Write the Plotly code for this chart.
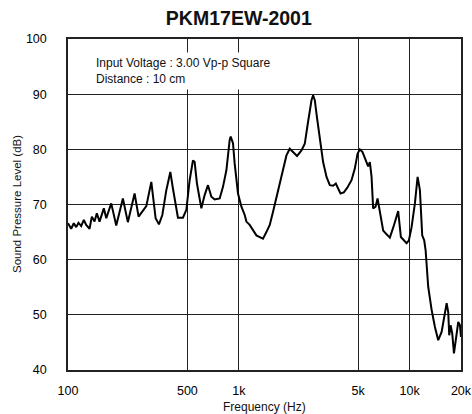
import plotly.graph_objects as go

# Frequency response data (Hz, dB SPL)
freq_hz = [100, 104.4, 108.1, 111.7, 115.2, 119.5, 123.8, 127.8, 133.7, 137.9,
           143.0, 147.5, 153.0, 162.1, 167.5, 179.1, 191.6, 209.6, 224.1, 245.4,
           259.0, 274.5, 287.4, 307.5, 325.9, 340.7, 356.7, 376.4, 397.3, 411.5,
           440.3, 470.9, 493.0, 515.5, 539.0, 551.5, 568.9, 603.7, 631.1, 659.9,
           691.0, 722.4, 772.7, 808.0, 845.9, 884.5, 896.5, 924.8, 946.1, 989.3,
           1036, 1083, 1108, 1158, 1211, 1268, 1326, 1386, 1451, 1518,
           1587, 1662, 1737, 1816, 1901, 1988, 2078, 2193, 2328, 2434,
           2545, 2665, 2723, 2786, 2874, 3009, 3117, 3263, 3411, 3566,
           3699, 3816, 3941, 4121, 4309, 4571, 4779, 4957, 5113, 5303,
           5545, 5720, 5853, 5989, 6119, 6320, 6493, 6698, 7004, 7333,
           7664, 8016, 8391, 8575, 8892, 9173, 9603, 9906, 10272, 10742,
           11141, 11492, 11856, 12180, 12413, 12853, 13459, 14072, 14712, 15402,
           16105, 16480, 16837, 17067, 17393, 17774, 18187, 18684, 19274, 19718,
           20000]
spl_db = [66.6, 65.6, 66.6, 65.9, 66.7, 66.1, 67.2, 66.3, 65.6, 67.8,
          66.9, 68.4, 66.9, 69.3, 67.5, 70.2, 66.2, 71.1, 66.8, 72.0,
          67.8, 69.0, 69.7, 74.1, 67.5, 66.4, 68.1, 72.6, 75.9, 72.9,
          67.6, 67.6, 69.0, 74.4, 78.0, 77.7, 73.8, 69.3, 71.7, 73.5,
          71.4, 70.9, 71.1, 73.2, 76.2, 81.7, 82.3, 81.1, 77.4, 72.0,
          69.6, 68.1, 66.9, 66.3, 65.3, 64.4, 64.1, 63.8, 65.0, 66.3,
          68.7, 71.4, 73.8, 76.5, 78.9, 80.1, 79.5, 78.8, 79.8, 81.0,
          85.0, 88.9, 89.8, 88.9, 85.6, 81.0, 77.7, 75.0, 73.5, 73.4,
          73.8, 72.9, 72.0, 72.2, 73.0, 74.4, 76.5, 79.2, 80.0, 79.5,
          78.0, 76.9, 77.7, 75.0, 69.3, 69.6, 71.1, 68.4, 65.3, 64.6,
          64.0, 65.8, 68.1, 68.8, 64.1, 63.7, 63.0, 63.5, 65.9, 70.2,
          75.0, 72.6, 64.4, 63.5, 61.7, 55.1, 50.9, 47.8, 45.4, 46.9,
          50.5, 52.1, 50.5, 46.3, 48.1, 46.6, 43.0, 46.0, 48.7, 48.1,
          46.0]

x_tick_vals = [100, 500, 1000, 5000, 10000, 20000]
x_tick_text = ["100", "500", "1k", "5k", "10k", "20k"]
y_tick_vals = [40, 50, 60, 70, 80, 90, 100]

title_text = "PKM17EW-2001"
x_title = "Frequency (Hz)"
y_title = "Sound Pressure Level (dB)"
note_text = "Input Voltage : 3.00 Vp-p Square<br>Distance : 10 cm"

FONT = "Liberation Sans, Arial, sans-serif"

fig = go.Figure()
fig.add_trace(go.Scatter(x=freq_hz, y=spl_db, mode="lines",
                         line=dict(color="black", width=2), showlegend=False,
                         hoverinfo="x+y"))

fig.update_layout(
    width=472, height=414,
    margin=dict(l=68, r=11, t=39, b=44, autoexpand=False),
    paper_bgcolor="white", plot_bgcolor="white",
    font=dict(family=FONT, size=12, color="black"),
    title=dict(text="<b>" + title_text + "</b>", x=0.506, xanchor="center",
               y=1 - 18 / 414, yanchor="middle", yref="container",
               font=dict(family=FONT, size=19.5, color="#111")),
    xaxis=dict(type="log", range=[2, 4.30103], tickvals=x_tick_vals,
               ticktext=x_tick_text, showgrid=True, gridcolor="#222",
               gridwidth=1.2, showline=True, linecolor="#222", linewidth=1.5,
               mirror=True, ticks="", ticklabelstandoff=8, zeroline=False,
               automargin=False, tickfont=dict(size=12.5)),
    yaxis=dict(range=[40, 100], tickvals=y_tick_vals, showgrid=True,
               gridcolor="#222", gridwidth=1.2, showline=True,
               linecolor="#222", linewidth=1.5, mirror=True, ticks="",
               ticklabelstandoff=17, zeroline=False, automargin=False,
               tickfont=dict(size=12.5)),
    annotations=[
        dict(text=note_text, xref="paper", yref="paper",
             x=0.062, y=0.902, xanchor="left", yanchor="middle",
             align="left", showarrow=False, bgcolor="white",
             borderpad=3, font=dict(size=12, color="#111")),
        dict(text=x_title, xref="paper", yref="paper", x=0.5, y=-0.112,
             xanchor="center", yanchor="middle", showarrow=False,
             font=dict(size=12, color="#111")),
        dict(text=y_title, xref="paper", yref="paper", x=-0.131, y=0.5,
             xanchor="center", yanchor="middle", showarrow=False,
             textangle=-90, font=dict(size=11.5, color="#111")),
    ],
)

fig.write_html("out.html",
               config={"displayModeBar": False},
               post_script="document.body.style.margin='0';"
                           "document.body.style.padding='0';")
